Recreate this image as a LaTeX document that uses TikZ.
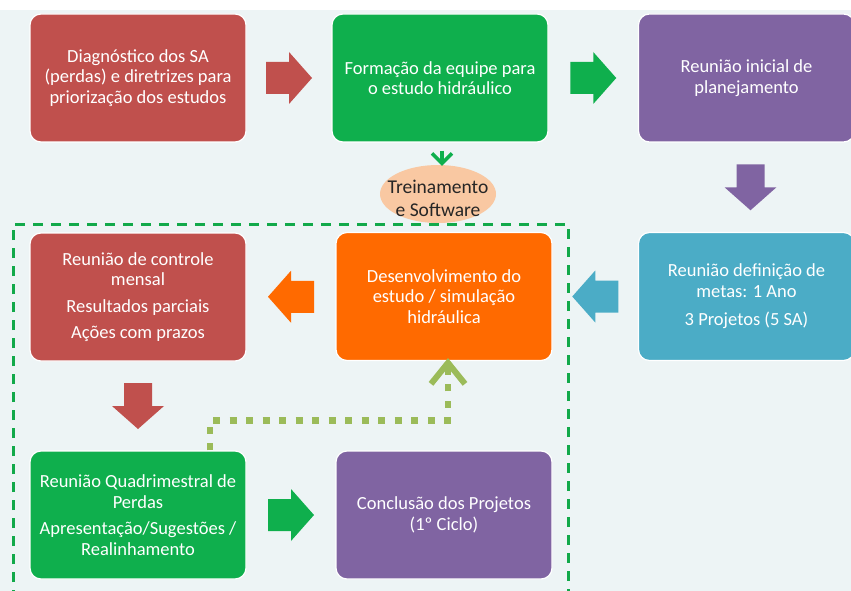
\documentclass[tikz,border=0pt]{standalone}
\usepackage{fontspec}
\setmainfont{Carlito}
\usetikzlibrary{arrows.meta,calc,shapes.geometric}
\definecolor{cred}{HTML}{C0504D}
\definecolor{cgreen}{HTML}{0FAF4D}
\definecolor{cpurple}{HTML}{8064A2}
\definecolor{ccyan}{HTML}{4BACC6}
\definecolor{corange}{HTML}{FF6A00}
\definecolor{cpeach}{HTML}{F9C8A2}
\definecolor{colive}{HTML}{9BBB59}
\definecolor{cbg}{HTML}{EDF4F5}
\definecolor{cdash}{HTML}{12A94A}
\begin{document}
\begin{tikzpicture}[x=1pt,y=-1pt,
  box/.style={rounded corners=11pt, minimum width=216pt, minimum height=128pt,
    draw=white, line width=1.2pt, text=white, align=center,
    font=\fontsize{18.5}{20.5}\selectfont, inner sep=0pt},
  rarrow/.pic={\fill[pic actions] (-23,-16)--(0,-16)--(0,-26)--(23,0)--(0,26)--(0,16)--(-23,16)--cycle;},
  larrow/.pic={\fill[pic actions] (23,-16)--(0,-16)--(0,-26)--(-23,0)--(0,26)--(0,16)--(23,16)--cycle;},
  darrow/.pic={\fill[pic actions] (-14,-23)--(-14,0)--(-26,0)--(0,23)--(26,0)--(14,0)--(14,-23)--cycle;},
  dotline/.style={colive, line width=6.5pt, dash pattern=on 7pt off 9.5pt,
    -{Straight Barb[length=21pt,width=34pt,line width=6pt]}},
  borderline/.style={cdash, line width=3pt, dash pattern=on 10pt off 8pt}
]
\clip (0,0) rectangle (851,591);
\fill[white] (0,0) rectangle (851,591);
\fill[cbg] (0,10) rectangle (851,591);

\node[box, fill=cred] (b1) at (138,78) {Diagnóstico dos SA\\(perdas) e diretrizes para\\priorização dos estudos};
\node[box, fill=cgreen] (b2) at (440,78) {Formação da equipe para\\o estudo hidráulico};
\node[box, fill=cpurple] (b3) at (746.5,78) {Reunião inicial de\\planejamento};
\node[box, fill=ccyan] (b4) at (746.5,296.5) {Reunião definição de\\metas: 1 Ano\\[8pt]3 Projetos (5 SA)};
\node[box, fill=corange] (dev) at (444,296.5) {Desenvolvimento do\\estudo / simulação\\hidráulica};
\node[box, fill=cred] (ctl) at (138,297) {Reunião de controle\\mensal\\[6pt]Resultados parciais\\[6pt]Ações com prazos};
\node[box, fill=cgreen] (gq) at (138,515) {Reunião Quadrimestral de\\Perdas\\[6pt]Apresentação/Sugestões /\\Realinhamento};
\node[box, fill=cpurple] (cp) at (444,515) {Conclusão dos Projetos\\(1º Ciclo)};

\pic[fill=cred] at ($(b1.east)!0.5!(b2.west)$) {rarrow};
\pic[fill=cgreen] at ($(b2.east)!0.5!(b3.west)$) {rarrow};
\pic[fill=cpurple] at ($(b3.south)!0.5!(b4.north)+(4,0)$) {darrow};
\pic[fill=ccyan] at ($(dev.east)!0.5!(b4.west)$) {larrow};
\pic[fill=corange] at ($(ctl.east)!0.5!(dev.west)$) {larrow};
\pic[fill=cred] at ($(ctl.south)!0.5!(gq.north)$) {darrow};
\pic[fill=cgreen] at ($(gq.east)!0.5!(cp.west)$) {rarrow};

\node[ellipse, fill=cpeach, minimum width=116pt, minimum height=58pt, inner sep=0pt] (tr) at (438,194) {};
\node[align=center, inner sep=0pt, text={rgb,255:red,38;green,38;blue,38},
  font=\fontsize{19.5}{23}\selectfont] (trt) at ([yshift=-4pt]tr.center) {Treinamento\\e Software};
\draw[cgreen, line width=3.5pt, -{Straight Barb[length=10pt,width=20pt]}] ([xshift=2pt,yshift=-8pt]b2.south) -- ([xshift=4pt,yshift=-1pt]tr.north);

\draw[borderline] (13,600) -- (13,224) -- (568,224) -- (568,600);

\draw[dotline] ([xshift=72pt]gq.north) -- ++(0,-30) -| ([xshift=4pt,yshift=3pt]dev.south);
\end{tikzpicture}
\end{document}
